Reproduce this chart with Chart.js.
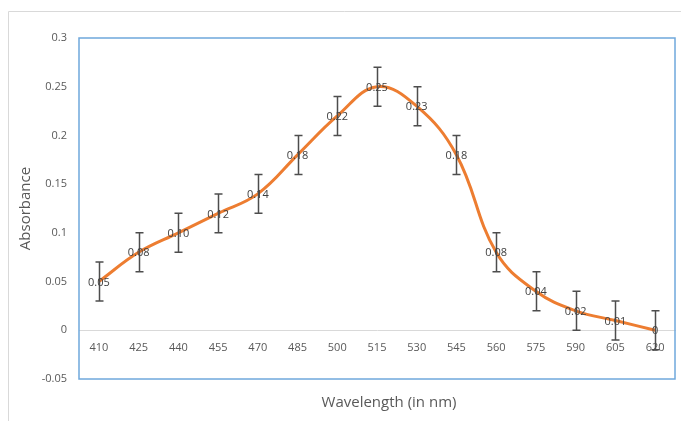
<!DOCTYPE html>
<html>

<head>
    <style>
        body {
            margin: 0;
            background-color: #fff;
        }

        .chart_container {
            width: 681px;
            height: 421px;
        }
    </style>
    <script src="https://cdn.jsdelivr.net/npm/chart.js"></script>
</head>

<body>
    <div class="chart_container">
        <canvas id="myChart" width="681" height="421"></canvas>
    </div>

    <script>
        // data
        const wavelengths = ['410', '425', '440', '455', '470', '485', '500', '515', '530', '545', '560', '575', '590', '605', '620'];
        const absorbance = [0.05, 0.08, 0.10, 0.12, 0.14, 0.18, 0.22, 0.25, 0.23, 0.18, 0.08, 0.04, 0.02, 0.01, 0];
        const errorSize = [0.02, 0.02, 0.02, 0.02, 0.02, 0.02, 0.02, 0.02, 0.02, 0.02, 0.02, 0.02, 0.02, 0.02, 0.02];
        const pointLabels = ['0.05', '0.08', '0.10', '0.12', '0.14', '0.18', '0.22', '0.25', '0.23', '0.18', '0.08', '0.04', '0.02', '0.01', '0'];
        const yTickLabels = ['-0.05', '0', '0.05', '0.1', '0.15', '0.2', '0.25', '0.3'];

        const fontFamily = "'Open Sans', 'Noto Sans', sans-serif";
        const textGray = '#595959';

        // outer chart border + blue plot area frame
        const framePlugin = {
            id: 'frame',
            beforeDraw(chart) {
                const ctx = chart.ctx;
                ctx.save();
                ctx.strokeStyle = '#d9d9d9';
                ctx.lineWidth = 1;
                ctx.beginPath();
                ctx.moveTo(8.5, chart.height);
                ctx.lineTo(8.5, 11.5);
                ctx.lineTo(chart.width, 11.5);
                ctx.stroke();
                ctx.restore();
            },
            afterDraw(chart) {
                const ctx = chart.ctx;
                const a = chart.chartArea;
                ctx.save();
                ctx.strokeStyle = '#6fa8dc';
                ctx.lineWidth = 1.5;
                ctx.strokeRect(a.left, a.top, a.right - a.left, a.bottom - a.top);

                // x axis title
                ctx.fillStyle = textGray;
                ctx.font = '15px ' + fontFamily;
                ctx.textAlign = 'center';
                ctx.textBaseline = 'middle';
                ctx.fillText('Wavelength (in nm)', 389, 403);
                ctx.restore();
            }
        };

        // error bars and value labels
        const errorBarPlugin = {
            id: 'errorBars',
            afterDatasetsDraw(chart) {
                const ctx = chart.ctx;
                const meta = chart.getDatasetMeta(0);
                const yScale = chart.scales.y;
                ctx.save();
                ctx.strokeStyle = '#4d4d4d';
                ctx.lineWidth = 1.5;
                meta.data.forEach((pt, i) => {
                    const x = Math.round(pt.x) + 0.5;
                    const yTop = yScale.getPixelForValue(absorbance[i] + errorSize[i]);
                    const yBot = yScale.getPixelForValue(absorbance[i] - errorSize[i]);
                    ctx.beginPath();
                    ctx.moveTo(x, yTop);
                    ctx.lineTo(x, yBot);
                    ctx.moveTo(x - 4, yTop);
                    ctx.lineTo(x + 4, yTop);
                    ctx.moveTo(x - 4, yBot);
                    ctx.lineTo(x + 4, yBot);
                    ctx.stroke();
                });

                ctx.fillStyle = '#404040';
                ctx.font = '11px ' + fontFamily;
                ctx.textAlign = 'center';
                ctx.textBaseline = 'middle';
                meta.data.forEach((pt, i) => {
                    ctx.fillText(pointLabels[i], pt.x, pt.y + 1);
                });
                ctx.restore();
            }
        };

        const data = {
            labels: wavelengths,
            datasets: [{
                label: 'Absorbance',
                data: absorbance,
                borderColor: '#ed7d31',
                borderWidth: 3,
                pointRadius: 0,
                tension: 0.4,
                fill: false
            }]
        };

        const config = {
            type: 'line',
            data: data,
            options: {
                responsive: false,
                animation: false,
                layout: {
                    padding: { top: 38, right: 6, bottom: 42, left: 0 }
                },
                plugins: {
                    legend: { display: false },
                    tooltip: { enabled: false }
                },
                scales: {
                    x: {
                        type: 'category',
                        offset: true,
                        position: { y: 0 },
                        grid: { display: false, drawTicks: false },
                        border: { display: true, color: '#d9d9d9', width: 1 },
                        ticks: {
                            color: textGray,
                            font: { family: fontFamily, size: 11 },
                            padding: 11,
                            maxRotation: 0,
                            autoSkip: false
                        }
                    },
                    y: {
                        min: -0.05,
                        max: 0.3,
                        grid: { display: false, drawTicks: false },
                        border: { display: false },
                        ticks: {
                            stepSize: 0.05,
                            color: textGray,
                            font: { family: fontFamily, size: 11 },
                            padding: 12,
                            callback: (value, index) => yTickLabels[index]
                        },
                        title: {
                            display: true,
                            text: 'Absorbance',
                            color: textGray,
                            font: { family: fontFamily, size: 15 },
                            padding: { top: 17, bottom: 0 }
                        },
                        afterFit: (scale) => {
                            scale.width = 79;
                        }
                    }
                }
            },
            plugins: [framePlugin, errorBarPlugin]
        };

        const myChart = new Chart(document.getElementById('myChart'), config);
    </script>
</body>

</html>
